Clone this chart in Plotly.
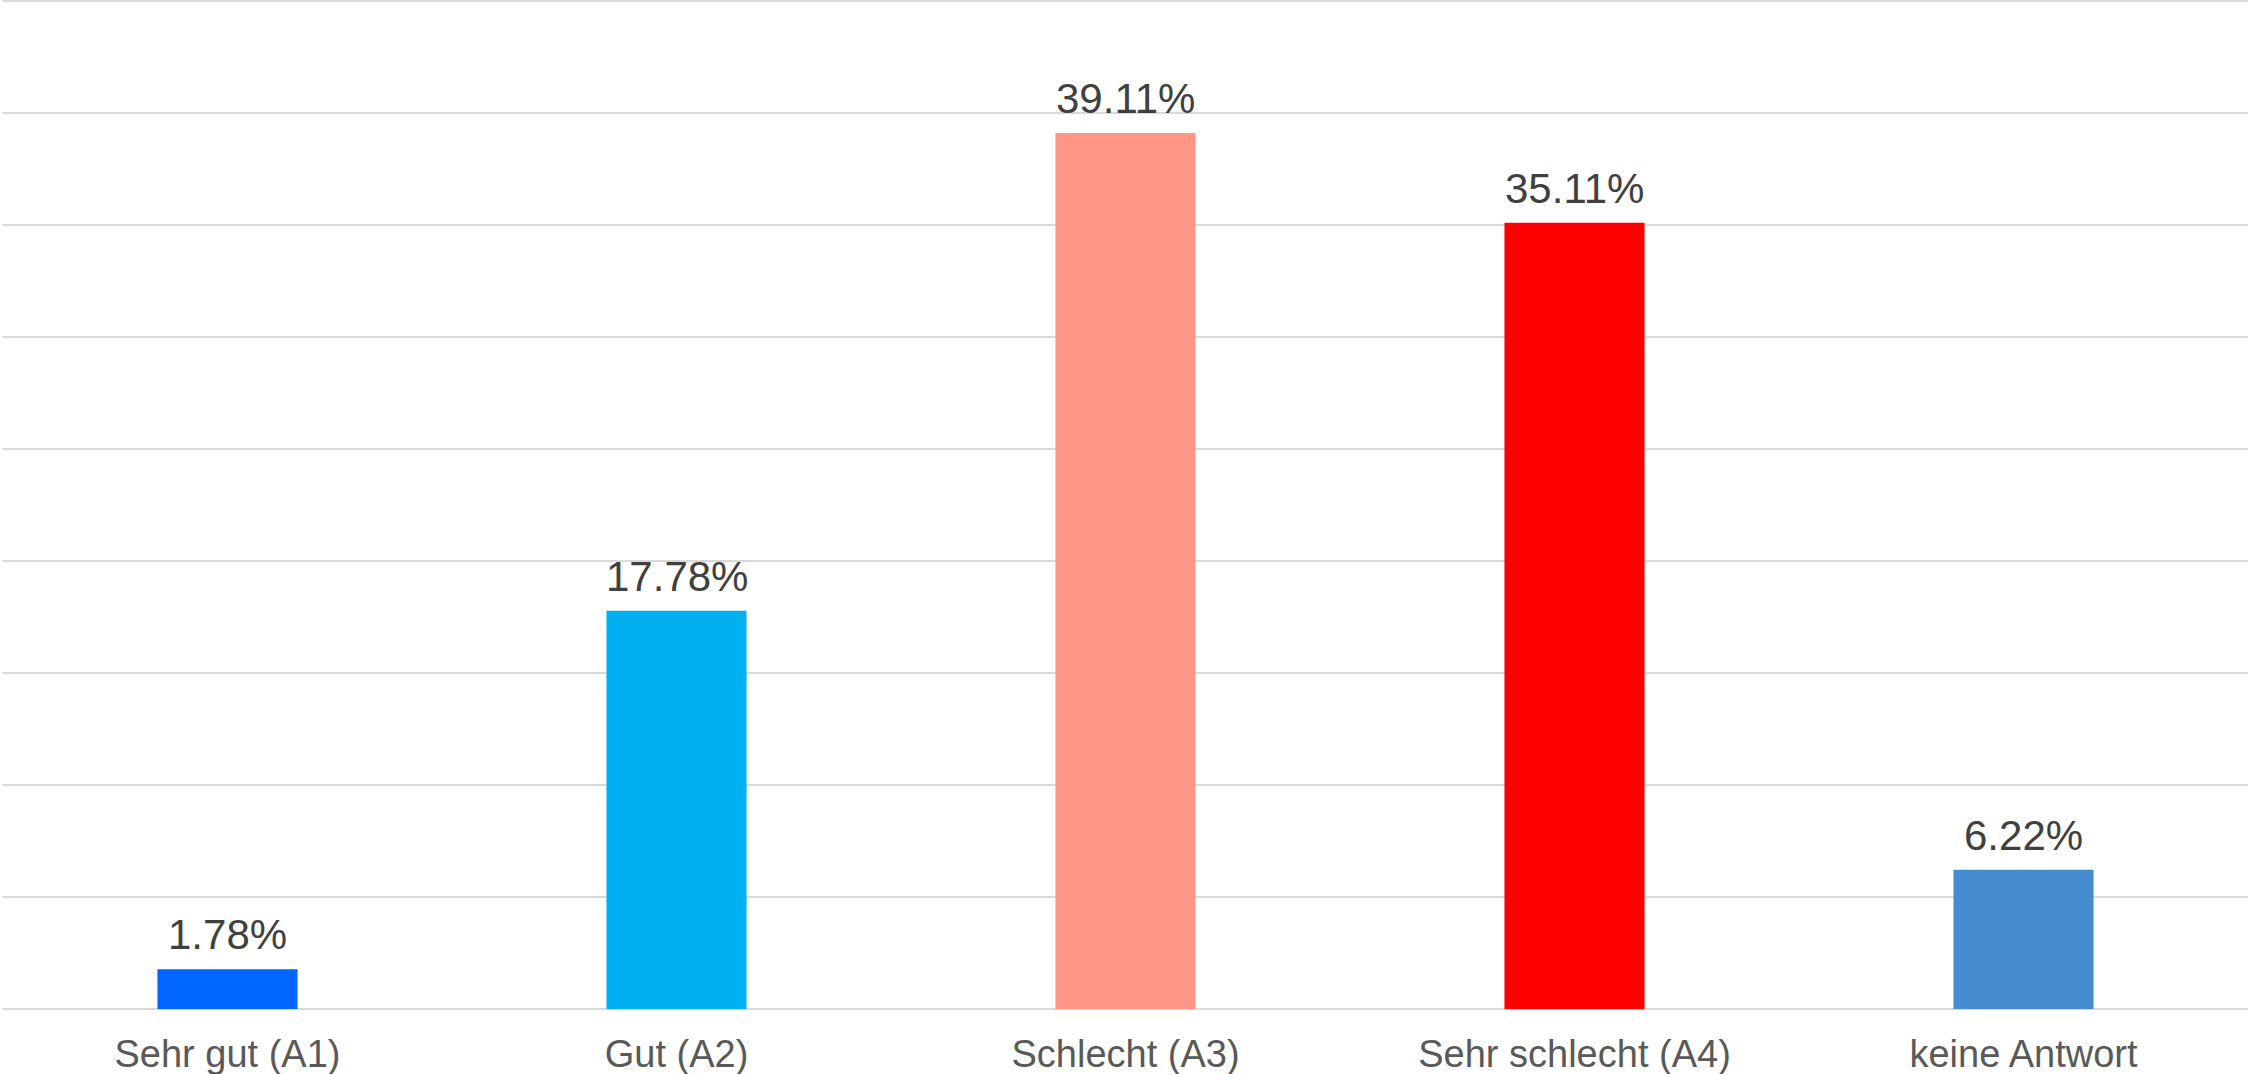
import plotly.graph_objects as go

# Survey answer shares (percent)
categories = ["Sehr gut (A1)", "Gut (A2)", "Schlecht (A3)", "Sehr schlecht (A4)", "keine Antwort"]
shares = [1.78, 17.78, 39.11, 35.11, 6.22]
bar_colors = ["#0066FF", "#00B0F0", "#FF9685", "#FF0000", "#448BCF"]
labels = [f"{v:.2f}%" for v in shares]

fig = go.Figure(
    go.Bar(
        x=categories,
        y=shares,
        marker=dict(color=bar_colors, line=dict(width=0)),
        width=0.312,
        hoverinfo="skip",
    )
)

# value labels above each bar
for cat, val, lab in zip(categories, shares, labels):
    fig.add_annotation(
        x=cat, y=val, text=lab, showarrow=False,
        xanchor="center", yanchor="bottom", yshift=9,
        font=dict(family="Liberation Sans, Arial, sans-serif", size=42, color="#404040"),
    )

fig.update_layout(
    width=2248,
    height=1074,
    margin=dict(l=3, r=0, t=0, b=65),
    paper_bgcolor="white",
    plot_bgcolor="white",
    showlegend=False,
    font=dict(family="Liberation Sans, Arial, sans-serif"),
    xaxis=dict(
        showgrid=False,
        showline=False,
        ticks="",
        tickfont=dict(size=38, color="#595959"),
        ticklabelstandoff=19,
        automargin=False,
    ),
    yaxis=dict(
        range=[0, 45.05],
        tickvals=[0, 5, 10, 15, 20, 25, 30, 35, 40, 45],
        showticklabels=False,
        showgrid=True,
        gridcolor="#D9D9D9",
        gridwidth=2,
        zeroline=True,
        zerolinecolor="#D9D9D9",
        zerolinewidth=2,
        ticks="",
        automargin=False,
    ),
)

fig.write_html("out.html")
